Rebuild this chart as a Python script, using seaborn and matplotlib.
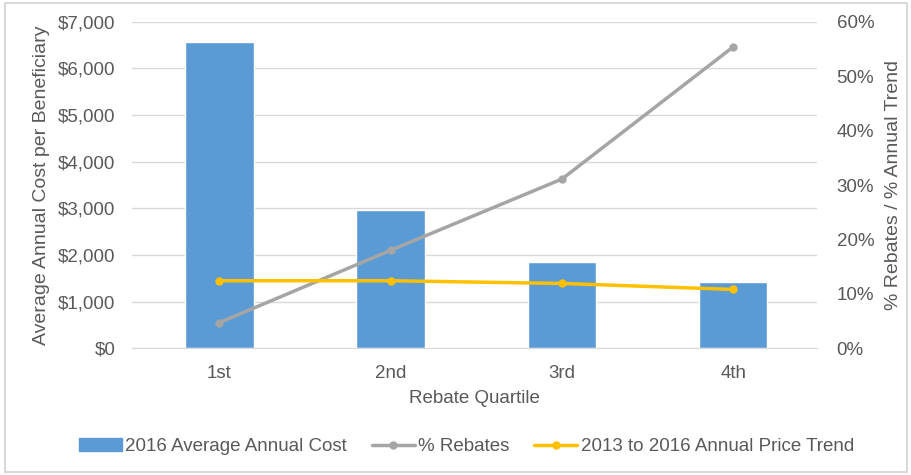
import numpy as np
import matplotlib
matplotlib.use("Agg")
import matplotlib.pyplot as plt
import matplotlib.patches as mpatches
from matplotlib.lines import Line2D
import pandas as pd
import seaborn as sns

quartiles = ["1st", "2nd", "3rd", "4th"]
avg_cost = [6570, 2960, 1850, 1420]
pct_rebates = [4.7, 18.0, 31.1, 55.4]
price_trend = [12.4, 12.4, 11.9, 10.8]

sns.set_style("white")
plt.rcParams['font.family'] = ['Liberation Sans', 'DejaVu Sans']
txt = "#595959"
blue, gray, gold = "#5B9BD5", "#A5A5A5", "#FFC000"
fs = 13.5

df = pd.DataFrame({"q": quartiles, "cost": avg_cost,
                   "reb": pct_rebates, "trend": price_trend})

fig = plt.figure(figsize=(9.11, 4.75), dpi=100)
ax = fig.add_axes([0.145, 0.267, 0.752, 0.687])
sns.barplot(data=df, x="q", y="cost", color=blue, width=0.4, saturation=1, ax=ax)
ax.set_ylim(0, 7000)
ax.set_yticks(range(0, 7001, 1000))
ax.set_yticklabels([f"${v:,}" for v in range(0, 7001, 1000)])
ax.grid(axis="y", color="#D9D9D9", lw=1)
ax.set_axisbelow(True)
ax.set_xlabel("Rebate Quartile", fontsize=fs, color=txt, labelpad=6)
ax.set_ylabel("Average Annual Cost per Beneficiary", fontsize=14, color=txt, labelpad=6)
ax.tick_params(colors=txt, labelsize=fs, length=0)
ax.tick_params(axis="y", pad=12)
ax.tick_params(axis="x", pad=12)
for s in ax.spines.values():
    s.set_visible(False)
ax.spines["bottom"].set_visible(True)
ax.spines["bottom"].set_color("#D9D9D9")

ax2 = ax.twinx()
x = np.arange(len(quartiles))
sns.lineplot(x=x, y=df["reb"], color=gray, lw=2.5, marker="o", markersize=6,
             markeredgewidth=0, ax=ax2)
sns.lineplot(x=x, y=df["trend"], color=gold, lw=2.5, marker="o", markersize=6,
             markeredgewidth=0, ax=ax2)
ax2.set_ylim(0, 60)
ax2.set_yticks(range(0, 61, 10))
ax2.set_yticklabels([f"{v}%" for v in range(0, 61, 10)])
ax2.set_ylabel("% Rebates / % Annual Trend", fontsize=14, color=txt, labelpad=8)
ax2.tick_params(colors=txt, labelsize=fs, length=0, pad=14)
for s in ax2.spines.values():
    s.set_visible(False)
ax.set_xlim(-0.51, 3.49)

handles = [
    mpatches.Patch(color=blue, label="2016 Average Annual Cost"),
    Line2D([0], [0], color=gray, lw=2.5, marker="o", markersize=5, label="% Rebates"),
    Line2D([0], [0], color=gold, lw=2.5, marker="o", markersize=5,
           label="2013 to 2016 Annual Price Trend"),
]
leg = fig.legend(handles=handles, loc="center", bbox_to_anchor=(0.512, 0.06), ncol=3,
                 frameon=False, fontsize=fs, handlelength=2.3, columnspacing=1.3,
                 handletextpad=0.2)
for t in leg.get_texts():
    t.set_color(txt)

fig.patches.append(mpatches.Rectangle((0.006, 0.006), 0.99, 0.988, transform=fig.transFigure,
                                      fill=False, edgecolor="#D9D9D9", lw=1.5))

fig.savefig("out.png", dpi=100)
